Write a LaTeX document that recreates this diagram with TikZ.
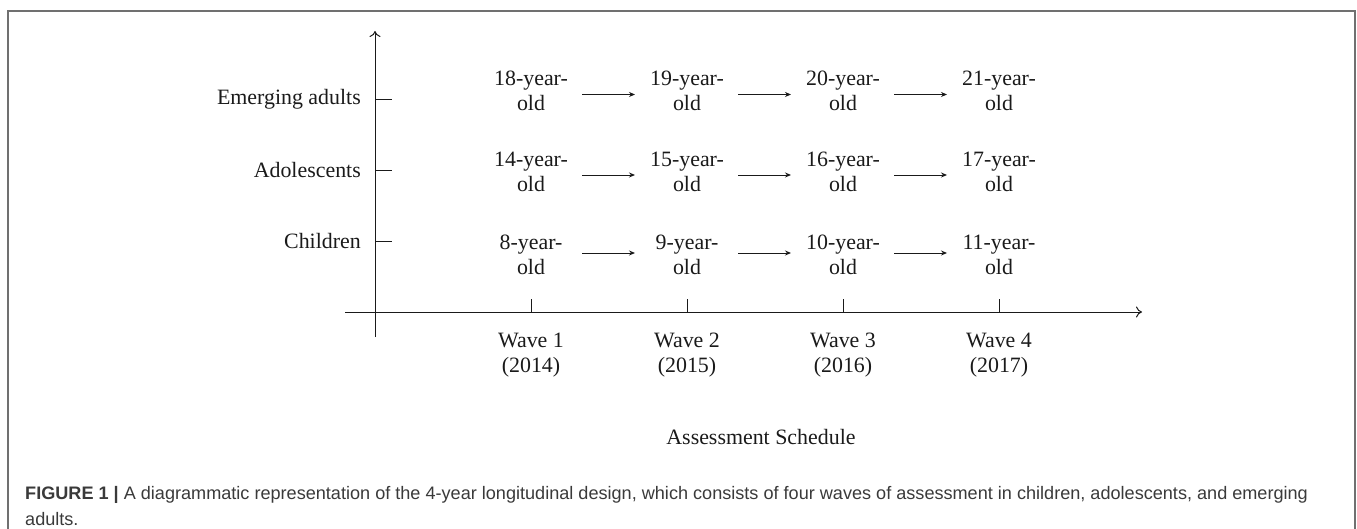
\documentclass[tikz,border=0pt]{standalone}
\usepackage{fontspec}
\setmainfont{Liberation Serif}
\newfontfamily\capfont{Liberation Sans}
\usetikzlibrary{arrows.meta}
\definecolor{framec}{HTML}{707070}
\definecolor{capc}{HTML}{3A3A3A}
\definecolor{inkc}{HTML}{1A1A1A}
\begin{document}
\begin{tikzpicture}[x=1pt,y=-1pt,
  lbl/.style={font=\fontsize{21.9}{25}\selectfont, text=inkc, inner sep=0pt},
  agebox/.style={lbl, align=center},
  axisline/.style={draw=inkc, line width=1pt},
  axisarr/.style={axisline, -{To[length=6pt,width=11pt]}},
  stepline/.style={draw=inkc, line width=0.9pt, -{Stealth[length=6pt,width=5pt]}},
  tickline/.style={draw=inkc, line width=0.8pt},
  frame/.style={draw=framec, line width=1.6pt}]
\useasboundingbox (0,0) rectangle (1357,529);
% frame
\draw[frame] (8,529) -- (8,11) -- (1355,11) -- (1355,529);
% axes
\coordinate (yb) at (375,337);
\coordinate (yt) at (375,31);
\coordinate (xl) at (345,312);
\coordinate (xr) at (1142,312);
\draw[axisarr] (yb) -- (yt);
\draw[axisarr] (xl) -- (xr);
% row labels and ticks
\foreach \nm/\txt/\yy in {ea/Emerging adults/99, ad/Adolescents/170, ch/Children/241}{
  \coordinate (t\nm a) at (375,\yy);
  \coordinate (t\nm b) at (392,\yy);
  \draw[tickline] (t\nm a) -- (t\nm b);
  \node[lbl, anchor=east] (r\nm) at (361,\yy) {\txt};
}
% wave ticks and labels
\foreach \i/\xx/\yr in {1/531/2014, 2/687/2015, 3/843/2016, 4/999/2017}{
  \coordinate (w\i a) at (\xx,312);
  \coordinate (w\i b) at (\xx,299);
  \draw[tickline] (w\i a) -- (w\i b);
  \node[agebox] (wl\i) at (\xx,355) {Wave \i\\(\yr)};
}
% age nodes
\foreach \i/\xx in {1/531, 2/687, 3/843, 4/999}{
  \pgfmathtruncatemacro{\ea}{17+\i}
  \pgfmathtruncatemacro{\ad}{13+\i}
  \pgfmathtruncatemacro{\ch}{7+\i}
  \node[agebox] (e\i) at (\xx,91) {\ea-year-\\old};
  \node[agebox] (a\i) at (\xx,172) {\ad-year-\\old};
  \node[agebox] (c\i) at (\xx,255) {\ch-year-\\old};
}
% step arrows
\foreach \r/\dy in {e/-3.5, a/-3, c/2}{
  \foreach \i/\j in {1/2, 2/3, 3/4}{
    \draw[stepline] ([xshift=51pt,yshift=\dy pt]\r\i.center)
      -- ([xshift=-52pt,yshift=\dy pt]\r\j.center);
  }
}
\node[lbl] (sched) at (761,437) {Assessment Schedule};
% caption
\node[anchor=west, inner sep=0pt, align=left, text=capc,
  font=\capfont\fontsize{18.1}{26}\selectfont] (cap) at (25,506)
  {{\bfseries FIGURE 1 |} A diagrammatic representation of the 4-year longitudinal design, which consists of four waves of assessment in children, adolescents, and emerging\\adults.};
\end{tikzpicture}
\end{document}
